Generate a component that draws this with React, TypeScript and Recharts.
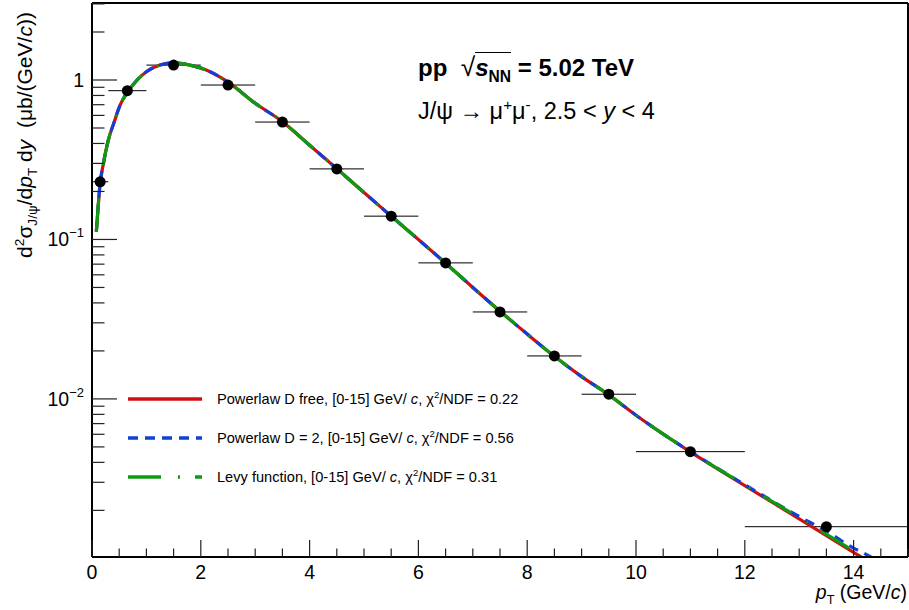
import { ComposedChart, Line, Scatter, ErrorBar, XAxis, YAxis, ReferenceLine } from 'recharts'

// measured points: bin centre, half width, cross section
const PT_BINS = [0.15, 0.65, 1.5, 2.5, 3.5, 4.5, 5.5, 6.5, 7.5, 8.5, 9.5, 11, 13.5]
const BIN_HALF = [0.15, 0.35, 0.5, 0.5, 0.5, 0.5, 0.5, 0.5, 0.5, 0.5, 0.5, 1, 1.5]
const XSEC = [0.23, 0.857, 1.24, 0.93, 0.545, 0.277, 0.14, 0.0713, 0.0351, 0.0186, 0.0107, 0.00467, 0.00158]

// fit curves
const PT = [0.08, 0.15, 0.21, 0.3, 0.4, 0.52, 0.64, 0.83, 1.0, 1.25, 1.5, 1.8, 2.1, 2.5, 3.0, 3.5, 4, 4.5, 5, 5.5, 6, 6.5, 7, 7.5, 8, 8.5, 9, 9.5, 10, 11, 12, 13, 13.5, 14, 14.16, 14.34]
const RED = [0.112, 0.225, 0.3, 0.42, 0.535, 0.7, 0.826, 1.0, 1.127, 1.24, 1.28, 1.24, 1.155, 0.97, 0.714, 0.548, 0.39, 0.278, 0.197, 0.14, 0.1, 0.071, 0.05, 0.0355, 0.0255, 0.0185, 0.0138, 0.0106, 0.0079, 0.00465, 0.00286, 0.00177, 0.00139, 0.00109, 0.00101, null]
const BLUE = [0.112, 0.225, 0.3, 0.42, 0.535, 0.7, 0.826, 1.0, 1.127, 1.24, 1.28, 1.24, 1.155, 0.97, 0.714, 0.548, 0.39, 0.278, 0.197, 0.14, 0.1, 0.071, 0.05, 0.0355, 0.0255, 0.0185, 0.0138, 0.0106, 0.0079, 0.00467, 0.0029, 0.00183, 0.00148, 0.00116, 0.00109, 0.00101]
const GREEN = [0.112, 0.225, 0.3, 0.42, 0.535, 0.7, 0.826, 1.0, 1.127, 1.24, 1.28, 1.24, 1.155, 0.97, 0.714, 0.548, 0.39, 0.278, 0.197, 0.14, 0.1, 0.071, 0.05, 0.0355, 0.0255, 0.0185, 0.0138, 0.0106, 0.0079, 0.00466, 0.00288, 0.0018, 0.00142, 0.00111, 0.00102, null]

const X_TICKS = [0, 0.5, 1, 1.5, 2, 2.5, 3, 3.5, 4, 4.5, 5, 5.5, 6, 6.5, 7, 7.5, 8, 8.5, 9, 9.5, 10, 10.5, 11, 11.5, 12, 12.5, 13, 13.5, 14, 14.5, 15]
const Y_TICKS = [0.002, 0.003, 0.004, 0.005, 0.006, 0.007, 0.008, 0.009, 0.01, 0.02, 0.03, 0.04, 0.05, 0.06, 0.07, 0.08, 0.09, 0.1, 0.2, 0.3, 0.4, 0.5, 0.6, 0.7, 0.8, 0.9, 1, 2, 3]
const Y_LABELS: Record<string, string> = { '1': '', '0.1': '−1', '0.01': '−2' }
const Y_MIN = 0.00102
const Y_MAX = 3.04

const FONT = '"Liberation Sans", Arial, sans-serif'
const PLOT_LEFT = 92
const PLOT_BOTTOM = 557

const RED_C = '#d01010'
const BLUE_C = '#1040d8'
const GREEN_C = '#109a10'

const curveData = PT.map((pt, i) => ({ pt, red: RED[i], blue: BLUE[i], green: GREEN[i] }))
const pointData = PT_BINS.map((pt, i) => ({ pt, val: XSEC[i], xerr: BIN_HALF[i] }))

function XTick(props: any) {
    const { x, payload } = props
    const v = payload.value
    const major = Math.abs(v % 2) < 1e-6 && v < 15
    return (
        <g>
            <line x1={x} x2={x} y1={PLOT_BOTTOM} y2={PLOT_BOTTOM - (major ? 17 : 8.5)} stroke="#222" strokeWidth={1.2} />
            {major && (
                <text x={x} y={PLOT_BOTTOM + 22} textAnchor="middle" fontSize={19.5} fontFamily={FONT} fill="#000">{v}</text>
            )}
        </g>
    )
}

function YTick(props: any) {
    const { y, payload } = props
    const key = String(payload.value)
    const major = key in Y_LABELS
    return (
        <g>
            <line x1={PLOT_LEFT} x2={PLOT_LEFT + (major ? 25 : 12.5)} y1={y} y2={y} stroke="#222" strokeWidth={1.2} />
            {major && (
                <text x={84} y={y + 7} textAnchor="end" fontSize={19.5} fontFamily={FONT} fill="#000">
                    {Y_LABELS[key] === '' ? '1' : (
                        <>
                            <tspan>10</tspan>
                            <tspan dy={-9} fontSize={13}>{Y_LABELS[key]}</tspan>
                        </>
                    )}
                </text>
            )}
        </g>
    )
}

const dot = (p: any) => <circle cx={p.cx} cy={p.cy} r={5.5} fill="#000" />

const sup = { fontSize: '0.65em', verticalAlign: 'super', lineHeight: 0 } as const
const sub = { fontSize: '0.65em', verticalAlign: 'sub', lineHeight: 0 } as const

const LEGEND = [
    { name: 'Powerlaw D free', chi: '0.22', color: RED_C, dash: undefined },
    { name: 'Powerlaw D = 2', chi: '0.56', color: BLUE_C, dash: '10 7' },
    { name: 'Levy function', chi: '0.31', color: GREEN_C, dash: '33 17 2 15' },
]

export default function App() {
    return (
        <div style={{ position: 'absolute', left: 0, top: 0, width: 909, height: 610, background: '#fff', fontFamily: FONT }}>
            <ComposedChart width={909} height={610} data={curveData} margin={{ top: 3, right: 1, left: 0, bottom: 0 }}>
                <XAxis
                    dataKey="pt"
                    type="number"
                    domain={[0, 15]}
                    ticks={X_TICKS}
                    interval={0}
                    height={53}
                    tick={(p: any) => <XTick {...p} />}
                    tickLine={false}
                    axisLine={{ stroke: '#000', strokeWidth: 2 }}
                    allowDataOverflow
                />
                <YAxis
                    type="number"
                    scale="log"
                    domain={[Y_MIN, Y_MAX]}
                    ticks={Y_TICKS}
                    interval={0}
                    width={92}
                    tick={(p: any) => <YTick {...p} />}
                    tickLine={false}
                    axisLine={{ stroke: '#000', strokeWidth: 2 }}
                    allowDataOverflow
                />
                <ReferenceLine x={15} stroke="#000" strokeWidth={2} />
                <ReferenceLine y={Y_MAX} stroke="#000" strokeWidth={2} />
                <Scatter data={pointData} dataKey="val" shape={dot} isAnimationActive={false}>
                    <ErrorBar dataKey="xerr" direction="x" width={0} stroke="#000" strokeWidth={1} />
                </Scatter>
                <Line dataKey="red" type="monotone" stroke={RED_C} strokeWidth={3.2} dot={false} isAnimationActive={false} />
                <Line dataKey="blue" type="monotone" stroke={BLUE_C} strokeWidth={3.2} strokeDasharray="10 7" dot={false} isAnimationActive={false} />
                <Line dataKey="green" type="monotone" stroke={GREEN_C} strokeWidth={3.2} strokeDasharray="33 17 2 15" dot={false} isAnimationActive={false} />
            </ComposedChart>

            {/* y title */}
            <div style={{ position: 'absolute', left: 24, top: 135, transform: 'translate(-50%, -50%) rotate(-90deg)', whiteSpace: 'pre', fontSize: 21, lineHeight: 1 }}>
                d<span style={sup}>2</span>σ<span style={sub}>J/ψ</span>/d<i>p</i><span style={sub}>T</span> d<i>y</i>  (μb/(GeV/<i>c</i>))
            </div>

            {/* x title */}
            <div style={{ position: 'absolute', right: 2, top: 583, whiteSpace: 'nowrap', fontSize: 19.5, lineHeight: 1 }}>
                <i>p</i><span style={sub}>T</span> (GeV/<i>c</i>)
            </div>

            {/* annotations */}
            <div style={{ position: 'absolute', left: 418, top: 54, whiteSpace: 'nowrap', fontSize: 24, fontWeight: 'bold', lineHeight: 1 }}>
                pp&nbsp; <span style={{ fontWeight: 'normal', fontSize: '1.1em' }}>√</span><span style={{ borderTop: '1.5px solid #000', paddingTop: 1 }}><i>s</i><span style={sub}>NN</span></span> = 5.02 TeV
            </div>
            <div style={{ position: 'absolute', left: 418, top: 100, whiteSpace: 'nowrap', fontSize: 23.5, lineHeight: 1 }}>
                J/ψ → μ<span style={sup}>+</span>μ<span style={sup}>-</span>, 2.5 &lt; <i>y</i> &lt; 4
            </div>

            {/* legend */}
            {LEGEND.map((l, i) => (
                <div key={l.name} style={{ position: 'absolute', left: 128, top: 391 + i * 39, height: 16, display: 'flex', alignItems: 'center', whiteSpace: 'nowrap', fontSize: 14.6 }}>
                    <svg width={74} height={16} style={{ marginRight: 15 }}>
                        <line x1={0} x2={74} y1={8} y2={8} stroke={l.color} strokeWidth={3.5} strokeDasharray={l.dash} />
                    </svg>
                    <span>{l.name}, [0-15] GeV/ <i>c</i>, χ<span style={sup}>2</span>/NDF = {l.chi}</span>
                </div>
            ))}
        </div>
    )
}
